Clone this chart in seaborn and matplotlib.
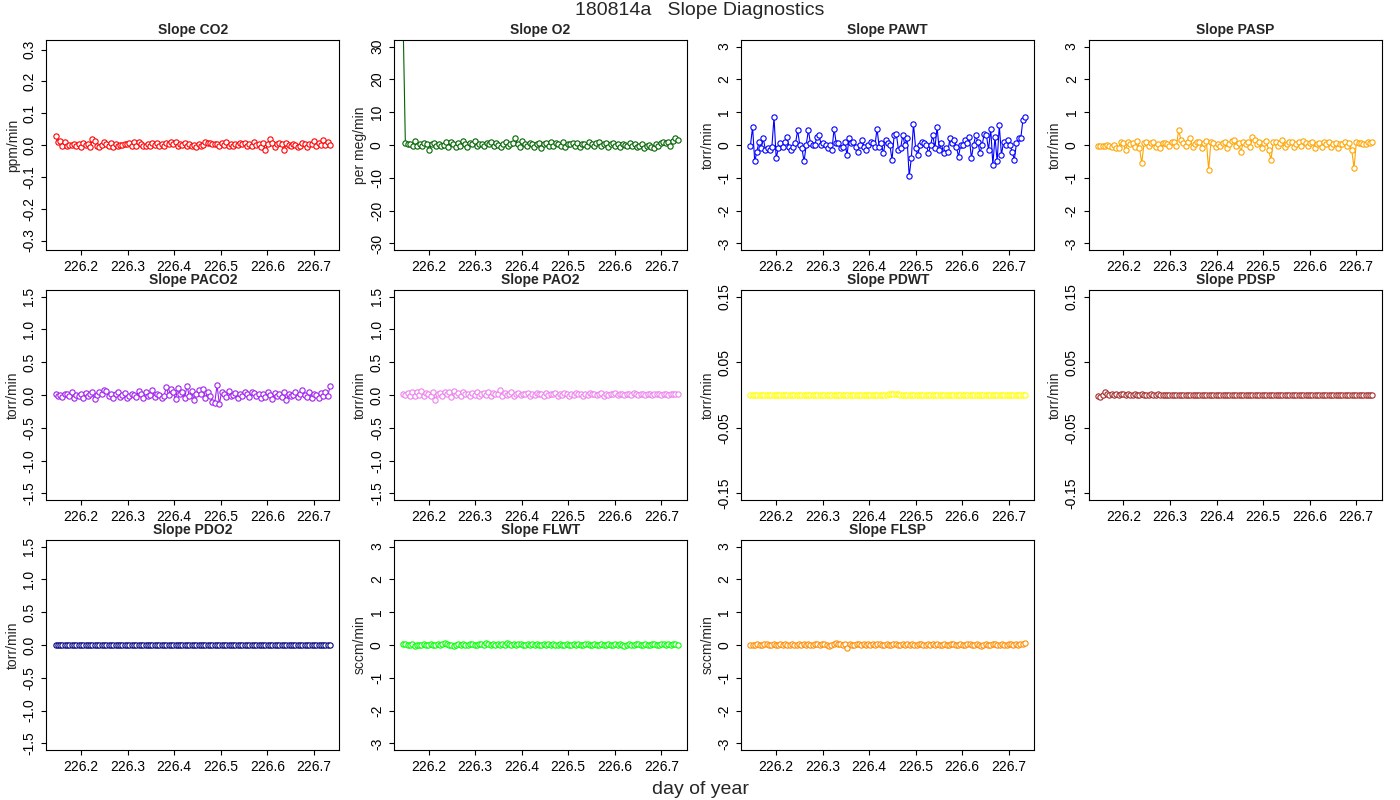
import numpy as np
import matplotlib
matplotlib.use("Agg")
import matplotlib.pyplot as plt
import seaborn as sns

co2 = [0.028,0.010,0.013,-0.002,0.008,-0.003,0.001,-0.001,0.004,-0.004,0.002,-0.006,0.007,-0.001,0.003,-0.005,0.018,0.012,-0.003,-0.005,0.000,0.010,0.002,-0.003,0.006,-0.006,0.004,-0.002,0.001,-0.001,0.003,0.003,0.005,-0.002,0.008,-0.003,0.008,0.004,-0.004,-0.002,0.004,-0.003,0.005,0.001,0.006,-0.002,0.004,-0.002,0.006,0.003,0.008,0.003,0.010,-0.003,0.004,0.001,0.006,-0.002,0.003,-0.004,0.001,-0.006,0.004,-0.004,0.000,0.010,0.006,0.007,0.004,0.004,0.002,-0.003,0.006,0.000,0.008,-0.002,0.004,-0.003,0.003,0.000,0.006,0.002,0.007,-0.002,0.004,-0.003,0.008,-0.001,0.003,-0.005,0.005,-0.015,0.003,0.020,0.006,-0.005,0.004,0.005,0.004,-0.017,0.006,0.001,-0.003,0.004,0.000,-0.006,-0.002,0.007,0.004,-0.005,0.002,0.003,0.012,-0.002,0.005,0.000,0.015,-0.001,0.008,0.000]
o2 = [40,0.5,0.3,0.2,-0.3,1.2,-0.2,0.3,-0.3,0.5,0.4,-1.5,0.2,0.6,-0.2,0.3,-0.4,0.1,0.8,-0.5,1.0,0.2,-0.6,0.5,-0.3,1.3,0.4,-0.5,0.7,0.2,1.1,-0.3,0.4,0.2,-0.4,0.6,0.3,0.8,-0.2,0.5,0.1,-0.5,0.3,0.9,-0.4,0.2,0.5,2.0,0.3,-0.5,1.2,0.2,-0.2,0.6,0.4,-0.6,0.3,0.7,-0.8,0.2,0.5,-0.3,0.8,-0.4,0.6,0.3,-0.2,0.9,-0.5,0.4,0.2,0.7,-0.3,0.5,-0.6,0.4,0.2,-0.2,0.8,0.4,-0.3,0.6,1.0,-0.4,0.3,0.5,-0.7,0.2,0.6,-0.3,0.4,-0.5,0.3,0.1,-0.2,0.5,-0.4,0.2,-0.6,-0.3,0.4,-0.8,-0.2,0.1,-0.5,-1.0,0.3,-0.2,0.6,0.8,0.5,1.0,-0.3,1.2,2.0,1.5]
pawt = [-0.02,0.55,-0.5,-0.2,0.1,-0.1,0.2,-0.15,-0.1,-0.15,-0.05,0.85,-0.4,-0.1,0.05,-0.05,0.1,0.25,-0.05,-0.15,-0.05,0.05,0.45,0.0,-0.1,-0.5,0.0,0.45,0.05,0.0,0.0,0.25,0.3,0.0,0.05,0.0,-0.1,0.0,-0.15,0.5,0.05,0.05,-0.1,-0.05,0.1,-0.3,0.2,0.05,0.1,-0.05,-0.2,0.0,0.15,-0.05,-0.15,0.0,0.1,0.05,-0.05,0.5,-0.05,0.05,-0.25,0.15,0.05,0.0,-0.45,0.3,0.35,-0.15,-0.1,0.3,0.0,0.2,-0.95,-0.4,0.65,-0.1,-0.3,0.0,0.1,0.05,0.0,-0.25,0.0,0.3,-0.1,0.55,-0.15,0.05,-0.25,-0.1,-0.2,0.2,0.05,0.15,-0.05,-0.35,0.0,0.0,0.15,0.05,0.25,-0.4,0.0,0.3,0.1,-0.25,0.0,0.35,0.3,-0.15,0.5,-0.6,0.25,-0.5,0.6,-0.3,0.1,0.0,0.15,0.0,-0.2,-0.45,0.05,0.2,0.2,0.75,0.85]
pasp = [-0.02,-0.03,-0.02,-0.04,-0.01,-0.03,-0.05,0.0,-0.08,-0.1,0.1,0.05,-0.15,0.08,0.02,0.06,-0.05,0.12,-0.08,-0.55,0.05,0.1,-0.02,0.06,0.08,-0.05,0.03,-0.1,0.05,0.07,0.02,-0.03,0.08,0.1,-0.04,0.45,0.15,0.05,-0.02,0.08,0.2,-0.05,0.02,0.08,0.1,-0.08,0.05,0.12,-0.75,0.1,0.05,-0.05,0.03,-0.02,0.06,0.08,-0.1,0.04,0.12,0.15,-0.03,0.05,-0.2,0.08,0.02,0.1,-0.06,0.25,0.15,0.02,0.1,-0.08,0.05,0.12,-0.15,-0.45,0.08,0.1,-0.02,0.05,0.15,-0.05,0.03,0.08,0.1,-0.05,0.02,0.08,-0.04,0.12,0.05,-0.02,0.06,0.1,-0.08,0.03,0.05,-0.06,0.1,0.02,0.08,-0.05,0.03,0.06,-0.1,0.04,0.02,0.08,-0.03,0.05,-0.15,-0.7,0.08,0.05,0.06,0.04,0.03,0.1,0.05,0.08]
paco2 = [0.02,-0.02,0.0,-0.03,0.01,0.02,-0.01,0.05,-0.05,0.0,-0.02,0.01,-0.04,0.03,-0.01,0.02,0.04,-0.06,0.0,0.05,0.02,0.07,0.06,-0.02,0.01,-0.04,0.02,0.05,-0.03,0.0,0.03,-0.05,-0.01,0.02,0.0,-0.03,0.06,0.01,-0.04,0.04,-0.02,0.0,0.08,-0.03,0.02,0.0,-0.05,-0.02,0.12,0.0,0.09,0.04,-0.06,0.1,0.02,0.05,-0.04,0.14,-0.02,0.06,-0.08,0.01,0.07,0.02,0.09,-0.05,0.04,-0.02,-0.1,-0.12,0.15,-0.14,0.05,0.02,-0.03,0.06,-0.02,0.0,0.03,-0.04,0.01,-0.01,0.05,0.02,-0.03,0.04,0.03,-0.02,0.01,-0.05,0.02,-0.03,0.04,0.0,-0.06,0.03,-0.02,0.01,-0.03,0.05,-0.08,0.02,-0.01,0.0,0.04,-0.03,0.02,0.07,0.0,-0.03,0.05,-0.04,0.02,0.0,-0.05,0.03,-0.02,0.05,-0.01,0.13]
pao2 = [0.02,0.0,0.03,-0.01,0.05,-0.02,0.04,0.0,0.06,-0.01,0.03,0.02,-0.02,0.04,-0.07,0.01,0.03,-0.01,0.05,0.02,0.04,-0.03,0.06,0.0,0.03,-0.02,0.04,0.01,0.02,-0.02,0.03,0.0,0.05,-0.01,0.02,0.03,0.0,0.04,-0.02,0.03,0.01,0.02,0.08,-0.01,0.03,0.0,0.02,0.04,-0.01,0.02,0.03,0.0,0.02,0.01,0.03,-0.01,0.02,0.0,0.03,0.02,0.01,-0.02,0.03,0.0,0.02,0.01,0.03,-0.01,0.02,0.0,0.03,0.01,-0.01,0.02,0.0,0.03,0.01,0.02,-0.01,0.02,0.0,0.03,0.01,0.02,0.0,0.01,0.03,-0.01,0.02,0.0,0.02,0.01,0.03,0.0,0.01,0.02,0.0,0.01,0.02,0.0,0.03,0.01,0.0,0.02,0.01,0.0,0.02,0.01,0.0,0.02,0.01,0.02,0.0,0.01,0.02,0.0,0.01,0.02,0.01,0.02]
pdwt = [0.0]*60 + [0.001]*5 + [0.0]*55
pdsp = [-0.002,-0.003,0.0,0.004,0.001,0.0,0.002,0.0,0.001,0.0,0.001,0.002,0.0,0.001,0.0,0.0,0.001,0.0,0.0,0.001,0.0,0.0,0.0,0.001,0.0,0.0,0.001,0.0,0.0,0.0] + [0.0]*90
pdo2 = [0.0]*120
flwt = [0.04,0.03,0.01,-0.01,0.02,-0.02,0.0,-0.01,0.01,0.02,-0.01,0.0,0.03,0.01,-0.01,0.02,0.0,0.03,0.05,0.02,0.0,0.01,-0.02,0.01,0.02,0.0,0.03,0.01,-0.01,0.02,0.04,0.01,0.0,0.03,0.02,0.0,0.06,0.02,0.01,0.04,0.0,0.02,0.01,0.03,0.0,0.05,0.02,0.01,0.03,0.0,0.02,0.04,0.01,0.0,0.02,0.01,0.03,0.0,0.02,0.01,-0.01,0.02,0.0,0.03,0.01,0.02,0.0,0.01,0.02,0.0,-0.01,0.02,0.01,0.0,0.03,0.01,0.02,0.0,0.01,0.02,0.03,0.01,0.0,0.02,0.01,0.0,0.02,-0.01,0.01,0.02,0.0,0.01,0.03,0.0,0.02,0.01,-0.02,0.01,0.02,0.0,0.01,0.03,0.02,0.0,0.01,0.02,0.0,0.01,0.03,0.02,0.01,0.0,0.02,0.04,0.01,0.02,0.0,0.03,0.02,0.01]
flsp = [-0.01,0.0,0.01,0.02,0.0,0.01,0.03,0.02,0.0,0.01,0.02,0.0,0.01,0.03,0.0,0.02,0.01,0.0,0.02,0.01,0.0,0.02,0.01,0.03,0.0,0.02,0.01,0.0,0.02,0.04,0.01,0.03,0.02,0.0,-0.02,0.01,0.02,0.06,0.03,0.02,0.01,0.03,-0.1,0.02,0.01,0.0,0.02,0.03,0.01,0.04,0.0,0.02,0.01,0.03,0.0,0.02,0.04,0.01,0.0,0.02,0.01,0.0,0.02,0.03,0.01,0.0,0.02,0.01,0.03,0.0,0.02,0.01,0.0,0.03,0.02,0.01,0.0,0.02,0.01,0.03,0.0,0.02,0.01,0.0,0.02,0.01,0.0,0.03,0.02,0.01,0.0,0.02,0.01,0.0,0.02,0.03,0.0,0.01,0.02,0.0,-0.02,0.01,0.02,0.0,0.01,0.03,0.02,0.01,0.0,0.02,0.01,0.0,0.02,0.03,0.01,0.02,0.0,0.03,0.02,0.05]

names = ["CO2","O2","PAWT","PASP","PACO2","PAO2","PDWT","PDSP","PDO2","FLWT","FLSP"]
series = [co2,o2,pawt,pasp,paco2,pao2,pdwt,pdsp,pdo2,flwt,flsp]
colors = ["red","darkgreen","blue","orange","#A020F0","violet","yellow","brown","navy","lime","darkorange"]
units = ["ppm/min","per meg/min","torr/min","torr/min","torr/min","torr/min","torr/min","torr/min","torr/min","sccm/min","sccm/min"]
ylims = [0.33,32,3.2,3.2,1.6,1.6,0.16,0.16,1.6,3.2,3.2]
yticks = [[-0.3,-0.2,-0.1,0.0,0.1,0.2,0.3],[-30,-20,-10,0,10,20,30],[-3,-2,-1,0,1,2,3],[-3,-2,-1,0,1,2,3],
          [-1.5,-1.0,-0.5,0.0,0.5,1.0,1.5],[-1.5,-1.0,-0.5,0.0,0.5,1.0,1.5],[-0.15,-0.05,0.05,0.15],[-0.15,-0.05,0.05,0.15],
          [-1.5,-1.0,-0.5,0.0,0.5,1.0,1.5],[-3,-2,-1,0,1,2,3],[-3,-2,-1,0,1,2,3]]
xticks = [226.2,226.3,226.4,226.5,226.6,226.7]
x_start, x_end = 226.145, 226.735

sns.set_style("ticks")
plt.rcParams["font.family"] = "Liberation Sans"
fig, axes = plt.subplots(3, 4, figsize=(14, 8), dpi=100)
fig.subplots_adjust(left=0.033, right=0.987, top=0.95, bottom=0.0625, wspace=0.185, hspace=0.19)

def fmt(i, v):
    if i in (1, 2, 3, 9, 10):
        return f"{v:g}"
    if i in (6, 7):
        return f"{v:.2f}"
    return f"{v:.1f}"

for i, ax in enumerate(axes.flat):
    if i >= len(series):
        ax.axis("off")
        continue
    y = np.array(series[i])
    x = np.linspace(x_start, x_end, len(y))
    sns.lineplot(x=x, y=y, ax=ax, color=colors[i], lw=0.8, marker="o", markersize=3.8,
                 markerfacecolor="white", markeredgecolor=colors[i], markeredgewidth=0.8)
    ax.set_xlim(226.125, 226.755)
    ax.set_ylim(-ylims[i], ylims[i])
    ax.set_xticks(xticks)
    ax.set_xticklabels([f"{v:.1f}" for v in xticks], fontsize=10)
    ax.set_yticks(yticks[i])
    ax.set_yticklabels([fmt(i, v) for v in yticks[i]], fontsize=10, rotation=90, va="center")
    ax.set_title(f"Slope {names[i]}", fontsize=10, fontweight="bold", pad=4)
    ax.set_ylabel(units[i], fontsize=10, labelpad=2)
    for s in ax.spines.values():
        s.set_visible(True); s.set_linewidth(0.8); s.set_color("black")
    ax.tick_params(colors="black")
fig.suptitle("180814a   Slope Diagnostics", fontsize=14, y=0.997)
fig.supxlabel("day of year", fontsize=14, y=0.003)
fig.savefig("out.png", dpi=100)
